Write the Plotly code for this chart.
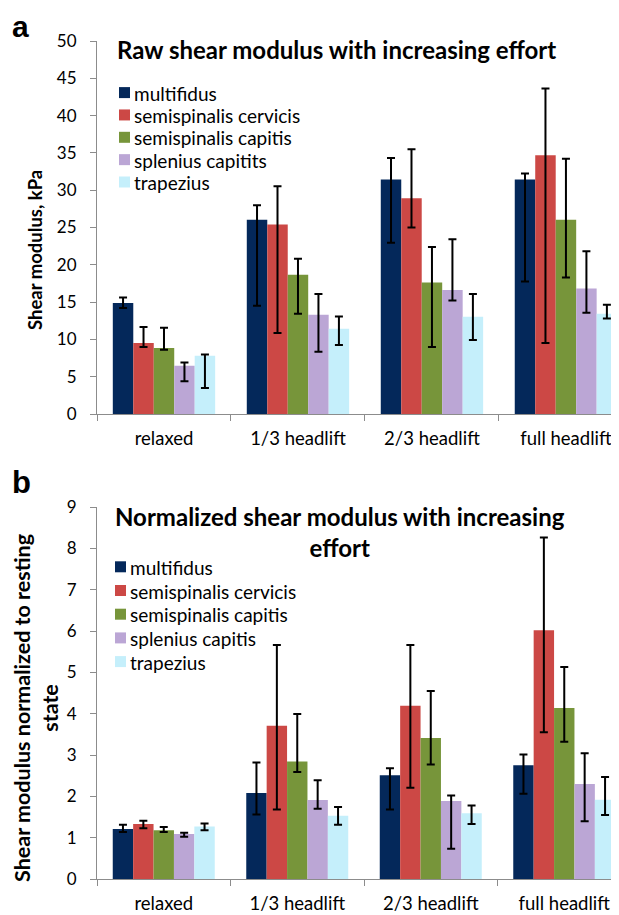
import plotly.graph_objects as go

categories = ["relaxed", "1/3 headlift", "2/3 headlift", "full headlift"]

muscles_a = ["multifidus", "semispinalis cervicis", "semispinalis capitis", "splenius capitits", "trapezius"]
muscles_b = ["multifidus", "semispinalis cervicis", "semispinalis capitis", "splenius capitis", "trapezius"]
colors = ["#04285A", "#CC4845", "#77953A", "#BBA6D5", "#C5EFFB"]

# Panel a: raw shear modulus (kPa) - bar value, upper and lower error bar ends
raw_multifidus = [14.87, 26.03, 31.43, 31.43]
raw_multifidus_hi = [15.6, 27.99, 34.33, 32.23]
raw_multifidus_lo = [14.2, 14.51, 22.95, 17.77]
raw_semicerv = [9.51, 25.4, 28.93, 34.69]
raw_semicerv_hi = [11.65, 30.54, 35.49, 43.62]
raw_semicerv_lo = [8.97, 10.85, 25.0, 9.51]
raw_semicap = [8.84, 18.66, 17.63, 26.03]
raw_semicap_hi = [11.56, 20.8, 22.37, 34.2]
raw_semicap_lo = [8.62, 13.44, 8.97, 18.3]
raw_splenius = [6.47, 13.3, 16.61, 16.83]
raw_splenius_hi = [6.92, 16.07, 23.44, 21.83]
raw_splenius_lo = [4.38, 8.35, 15.22, 13.57]
raw_trapezius = [7.81, 11.43, 13.04, 13.44]
raw_trapezius_hi = [7.99, 13.08, 16.07, 14.64]
raw_trapezius_lo = [3.48, 9.24, 9.91, 12.81]

# Panel b: normalized to resting state
norm_multifidus = [1.21, 2.08, 2.51, 2.75]
norm_multifidus_hi = [1.31, 2.82, 2.68, 3.01]
norm_multifidus_lo = [1.14, 1.56, 1.68, 2.06]
norm_semicerv = [1.33, 3.71, 4.19, 6.02]
norm_semicerv_hi = [1.41, 5.66, 5.66, 8.26]
norm_semicerv_lo = [1.23, 1.68, 2.21, 3.55]
norm_semicap = [1.18, 2.84, 3.41, 4.14]
norm_semicap_hi = [1.26, 3.99, 4.55, 5.13]
norm_semicap_lo = [1.14, 2.59, 2.77, 3.32]
norm_splenius = [1.09, 1.91, 1.89, 2.30]
norm_splenius_hi = [1.12, 2.39, 2.02, 3.04]
norm_splenius_lo = [1.02, 1.70, 0.73, 1.40]
norm_trapezius = [1.27, 1.53, 1.59, 1.92]
norm_trapezius_hi = [1.34, 1.74, 1.78, 2.47]
norm_trapezius_lo = [1.18, 1.31, 1.33, 1.55]

raw_series = [
    (raw_multifidus, raw_multifidus_hi, raw_multifidus_lo),
    (raw_semicerv, raw_semicerv_hi, raw_semicerv_lo),
    (raw_semicap, raw_semicap_hi, raw_semicap_lo),
    (raw_splenius, raw_splenius_hi, raw_splenius_lo),
    (raw_trapezius, raw_trapezius_hi, raw_trapezius_lo),
]
norm_series = [
    (norm_multifidus, norm_multifidus_hi, norm_multifidus_lo),
    (norm_semicerv, norm_semicerv_hi, norm_semicerv_lo),
    (norm_semicap, norm_semicap_hi, norm_semicap_lo),
    (norm_splenius, norm_splenius_hi, norm_splenius_lo),
    (norm_trapezius, norm_trapezius_hi, norm_trapezius_lo),
]

FONT = "Lato"
OFF = 8                     # page body margin: figure is drawn at (8, 8) in the window
W, H = 619 - OFF, 915 - OFF
L = 97 - OFF                # left edge of plot area (window px 97)

fig = go.Figure()


def py(p):
    """window pixel y -> paper fraction"""
    return 1 - (p - OFF) / H


def px(p):
    """window pixel x -> paper fraction"""
    return (p - OFF - L) / (W - L)


def add_panel(series, names, xa, ya, sw_x0, text_x, row0, row_step):
    for i, ((v, hi, lo), name, c) in enumerate(zip(series, names, colors)):
        fig.add_trace(go.Bar(
            x=categories, y=v, name=name, marker=dict(color=c, line=dict(width=0)),
            xaxis=xa, yaxis=ya, showlegend=False,
            error_y=dict(type="data", symmetric=False,
                         array=[h - a for h, a in zip(hi, v)],
                         arrayminus=[a - l for a, l in zip(v, lo)],
                         color="black", thickness=2, width=4),
        ))
        # legend entry: swatch + label
        yc = row0 + i * row_step
        fig.add_shape(type="rect", xref="paper", yref="paper",
                      x0=px(sw_x0), x1=px(sw_x0 + 11), y0=py(yc - 5.5), y1=py(yc + 5.5),
                      fillcolor=c, line=dict(width=0))
        fig.add_annotation(text=name, xref="paper", yref="paper", x=px(text_x), y=py(yc + 0.5),
                           xanchor="left", yanchor="middle", showarrow=False,
                           font=dict(family=FONT, size=19, color="black"))


add_panel(raw_series, muscles_a, "x", "y", 119, 132, 92.6, 22.35)
add_panel(norm_series, muscles_b, "x2", "y2", 115, 128, 566.8, 23.7)

axis_common = dict(showline=True, linecolor="#8C8C8C", linewidth=1, ticks="outside",
                   tickcolor="#8C8C8C", ticklen=6, showgrid=False, zeroline=False, automargin=False)
xfont = dict(family=FONT, size=18.5, color="black")
yfont = dict(family=FONT, size=17, color="black")

fig.update_layout(
    width=W, height=H, margin=dict(l=L, r=0, t=0, b=0, autoexpand=False),
    paper_bgcolor="white", plot_bgcolor="white",
    barmode="group", bargap=0.236, bargroupgap=0,
    showlegend=False,
    xaxis=dict(domain=[0, 1], anchor="y", range=[-0.5, 3.396], tickson="boundaries",
               tickfont=xfont, ticklabelstandoff=8, **axis_common),
    yaxis=dict(domain=[py(414), py(41)], anchor="x", range=[0, 50], dtick=5, ticklabelstandoff=10,
               tickfont=yfont, **axis_common),
    xaxis2=dict(domain=[0, 1], anchor="y2", range=[-0.5, 3.41], tickson="boundaries",
                tickfont=xfont, ticklabelstandoff=8, **axis_common),
    yaxis2=dict(domain=[py(879), py(507)], anchor="x2", range=[0, 9], dtick=1, ticklabelstandoff=10,
                tickfont=yfont, **axis_common),
)

ann = [
    dict(text="<b>a</b>", x=20.5, y=26.5, size=30, family="Liberation Sans"),
    dict(text="<b>b</b>", x=21, y=482, size=31, family="Liberation Sans"),
    dict(text="<b>Raw shear modulus with increasing effort</b>", x=336, y=50, size=24, family=FONT),
    dict(text="<b>Normalized shear modulus with increasing<br>effort</b>", x=340, y=532, size=24, family=FONT),
]
for a in ann:
    fig.add_annotation(text=a["text"], xref="paper", yref="paper", x=px(a["x"]), y=py(a["y"]),
                       xanchor="center", yanchor="middle", showarrow=False,
                       font=dict(family=a["family"], size=a["size"], color="black"))

fig.add_annotation(text="<b>Shear modulus, kPa</b>", xref="paper", yref="paper", x=px(35), y=py(250),
                   xanchor="center", yanchor="middle", showarrow=False, textangle=-90,
                   font=dict(family=FONT, size=18.5, color="black"))
fig.add_annotation(text="<b>Shear modulus normalized to resting<br>state</b>", xref="paper", yref="paper",
                   x=px(36), y=py(708), xanchor="center", yanchor="middle", showarrow=False, textangle=-90,
                   font=dict(family=FONT, size=21.5, color="black"))

fig.write_html("out.html")
